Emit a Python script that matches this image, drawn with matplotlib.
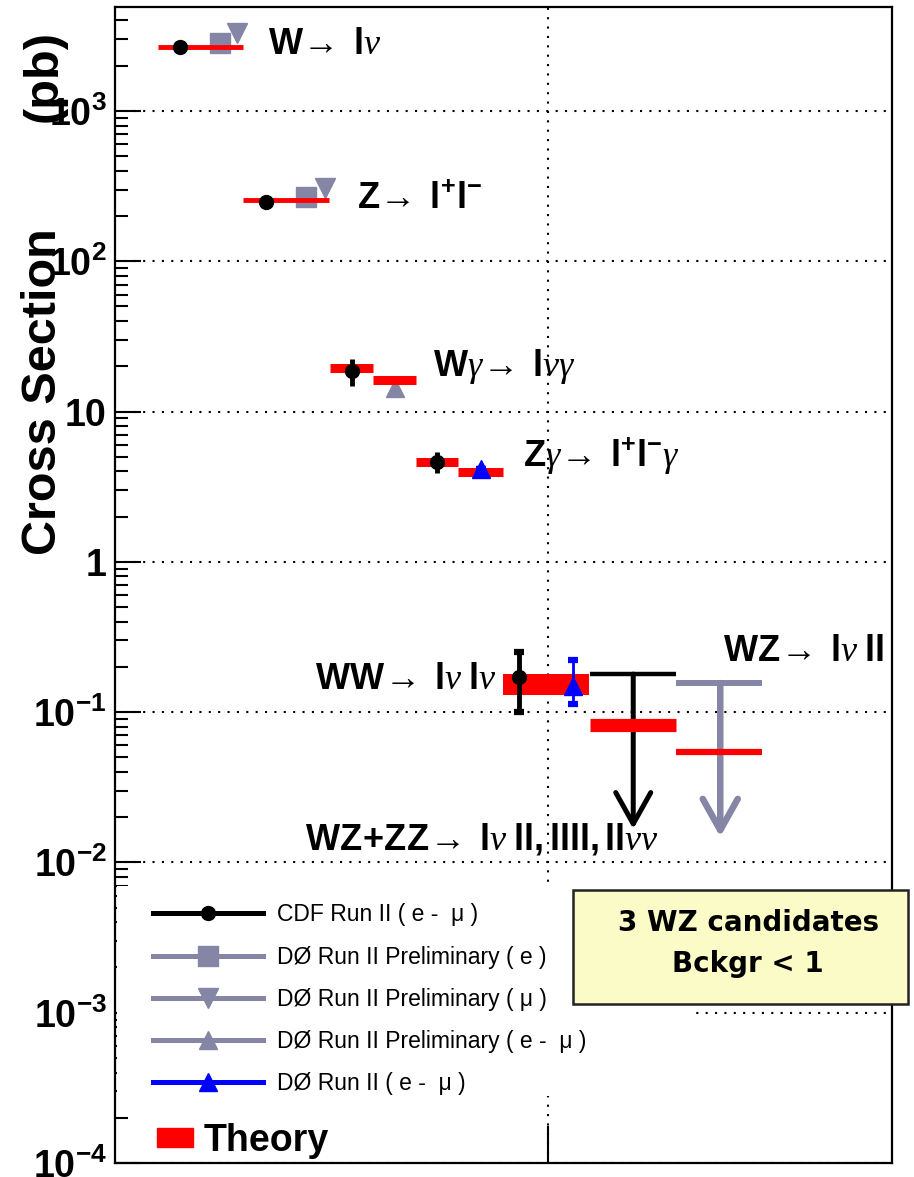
import matplotlib
matplotlib.use('Agg')
import matplotlib.pyplot as plt
from matplotlib.lines import Line2D
from matplotlib.patches import Patch, Rectangle
from matplotlib.ticker import LogLocator, NullFormatter, NullLocator

plt.rcParams['font.family'] = ['Liberation Sans', 'DejaVu Sans']
plt.rcParams['mathtext.fontset'] = 'custom'
plt.rcParams['mathtext.rm'] = 'Liberation Sans:bold'
plt.rcParams['mathtext.bf'] = 'Liberation Sans:bold'
plt.rcParams['mathtext.it'] = 'Liberation Serif:italic'

RED = '#ff0000'
GREY = '#8585a5'
BLUE = '#0000ff'

# CDF Run II (e-mu) measurements, pb
cdf_x = [0.84, 1.94, 3.05, 4.14, 5.20]
cdf_val = [2665, 248, 18.5, 4.6, 0.171]
cdf_lo = [2665, 248, 14.7, 3.91, 0.100]
cdf_hi = [2665, 248, 22.2, 5.39, 0.251]

# D0 Run II preliminary (e), (mu), (e-mu)
d0e_x = [1.35, 2.46]
d0e_val = [2830, 268]
d0mu_x = [1.57, 2.70]
d0mu_val = [3300, 307]
d0prel_emu_x = [3.60]
d0prel_emu_val = [14.4]

# D0 Run II (e-mu)
d0emu_x = [4.71, 5.89]
d0emu_val = [4.16, 0.149]
d0emu_lo = [4.16, 0.113]
d0emu_hi = [4.16, 0.222]

# theory predictions
theory_x0 = [0.55, 1.65, 2.77, 3.32, 3.87, 4.41, 6.11, 7.22]
theory_x1 = [1.65, 2.75, 3.32, 3.87, 4.41, 4.99, 7.22, 8.33]
theory_val = [2665, 256, 19.6, 16.3, 4.63, 3.97, 0.082, 0.054]
theory_lw = [3.5, 3.5, 6.5, 6.5, 6.5, 6.5, 9.5, 4.5]
ww_band_x = [4.99, 6.10]
ww_band_lo = 0.130
ww_band_hi = 0.179

# upper limits: WZ+ZZ (CDF) and WZ (D0)
limit_x0 = [6.11, 7.22]
limit_x1 = [7.22, 8.33]
limit_val = [0.179, 0.156]
limit_arrow_x = [6.67, 7.79]
limit_tip = [0.0167, 0.0148]
limit_color = ['black', GREY]
limit_lw = [3.2, 4.3]

# process labels
proc_text = [
    r'$\mathbf{W}\!\rightarrow\ \mathbf{l}\nu$',
    r'$\mathbf{Z}\!\rightarrow\ \mathbf{l^{+}l^{-}}$',
    r'$\mathbf{W}\gamma\!\rightarrow\ \mathbf{l}\nu\gamma$',
    r'$\mathbf{Z}\gamma\!\rightarrow\ \mathbf{l^{+}l^{-}}\gamma$',
    r'$\mathbf{WW}\!\rightarrow\ \mathbf{l}\nu\ \mathbf{l}\nu$',
    r'$\mathbf{WZ\!+\!ZZ}\!\rightarrow\ \mathbf{l}\nu\ \mathbf{ll,llll,ll}\nu\nu$',
    r'$\mathbf{WZ}\!\rightarrow\ \mathbf{l}\nu\ \mathbf{ll}$',
]
proc_x = [1.97, 3.11, 4.09, 5.25, 2.57, 2.45, 7.82]
proc_y = [2750, 256, 19.9, 5.07, 0.166, 0.0143, 0.255]

ytick_vals = [1e-4, 1e-3, 1e-2, 1e-1, 1, 10, 100, 1000]
ytick_labels = [r'$\mathbf{10^{-4}}$', r'$\mathbf{10^{-3}}$', r'$\mathbf{10^{-2}}$',
                r'$\mathbf{10^{-1}}$', '1', '10', r'$\mathbf{10^{2}}$', r'$\mathbf{10^{3}}$']

legend_labels = ['CDF Run II ( e -  \u03bc )',
                 'D\u00d8 Run II Preliminary ( e )',
                 'D\u00d8 Run II Preliminary ( \u03bc )',
                 'D\u00d8 Run II Preliminary ( e -  \u03bc )',
                 'D\u00d8 Run II ( e -  \u03bc )']

fig = plt.figure(figsize=(9.14, 11.77), dpi=100)
ax = fig.add_axes([0.1258, 0.0119, 0.8501, 0.9822])
ax.set_yscale('log')
ax.set_ylim(1e-4, 4920)
ax.set_xlim(0, 10)

# grey D0 markers sit below the theory lines
ax.plot(d0e_x, d0e_val, 's', color=GREY, ms=15, zorder=3)
ax.plot(d0mu_x, d0mu_val, 'v', color=GREY, ms=14, zorder=3)
ax.plot(d0prel_emu_x, d0prel_emu_val, '^', color=GREY, ms=13, zorder=3)

# theory
ax.hlines(theory_val, theory_x0, theory_x1, colors=RED, lw=theory_lw, zorder=4)
ax.fill_between(ww_band_x, ww_band_lo, ww_band_hi, color=RED, lw=0, zorder=4)

# limits with arrows
ax.hlines(limit_val, limit_x0, limit_x1, colors=limit_color, lw=limit_lw, zorder=4)
for x, v, t, c, w in zip(limit_arrow_x, limit_val, limit_tip, limit_color, limit_lw):
    ax.annotate('', xy=(x, t), xytext=(x, v),
                arrowprops=dict(arrowstyle='->,head_length=0.75,head_width=0.42',
                                color=c, lw=w + 0.4, mutation_scale=30,
                                shrinkA=0, shrinkB=0), zorder=3.5)

# CDF and D0 (e-mu) points
cdf_err = [[v - l for v, l in zip(cdf_val, cdf_lo)], [h - v for v, h in zip(cdf_val, cdf_hi)]]
ax.errorbar(cdf_x[:4], cdf_val[:4], yerr=[cdf_err[0][:4], cdf_err[1][:4]], fmt='o',
            color='black', ms=10, elinewidth=3.5, capsize=0, zorder=5)
ax.errorbar(cdf_x[4:], cdf_val[4:], yerr=[cdf_err[0][4:], cdf_err[1][4:]], fmt='o',
            color='black', ms=10, elinewidth=3.5, capsize=3.5, capthick=4.5, zorder=5)
d0_err = [[v - l for v, l in zip(d0emu_val, d0emu_lo)], [h - v for v, h in zip(d0emu_val, d0emu_hi)]]
ax.errorbar(d0emu_x, d0emu_val, yerr=d0_err, fmt='^', color=BLUE, ms=13,
            elinewidth=2, capsize=3.5, capthick=4.5, zorder=5)

for t, x, y in zip(proc_text, proc_x, proc_y):
    ax.text(x, y, t, fontsize=26, ha='left', va='center', zorder=6)

# axes styling
ax.set_yticks(ytick_vals)
ax.set_yticklabels(ytick_labels, fontsize=27, fontweight='bold')
ax.yaxis.set_minor_locator(LogLocator(base=10, subs=range(2, 10), numticks=20))
ax.yaxis.set_minor_formatter(NullFormatter())
ax.set_xticks([5.57])
ax.set_xticklabels([''])
ax.xaxis.set_minor_locator(NullLocator())
ax.tick_params(axis='y', which='major', direction='in', length=19, width=1.5, pad=6, right=False)
ax.tick_params(axis='y', which='minor', direction='in', length=9.5, width=1.5, right=False)
ax.tick_params(axis='x', which='major', direction='in', length=27, width=1.5, top=False)
ax.set_axisbelow(True)
ax.grid(True, which='major', color='black', linestyle=(0, (1, 3.5)), lw=1.5)
for s in ax.spines.values():
    s.set_linewidth(1.6)

# y axis title, drawn in two pieces
fig.text(44 / 914, 1 - 392 / 1177, 'Cross Section', rotation=90, fontsize=35,
         fontweight='bold', ha='center', va='center')
fig.text(44 / 914, 1 - 76 / 1177, '(pb)', rotation=90, fontsize=35,
         fontweight='bold', ha='center', va='center')

# white legend area over the grid
ax.add_patch(Rectangle((0.003, 0.058), 0.74, 0.182, transform=ax.transAxes,
                       facecolor='white', edgecolor='none', zorder=1))

handles = [
    Line2D([], [], color='black', lw=3.6, marker='o', ms=10),
    Line2D([], [], color=GREY, lw=3.6, marker='s', ms=15),
    Line2D([], [], color=GREY, lw=3.6, marker='v', ms=14),
    Line2D([], [], color=GREY, lw=3.6, marker='^', ms=13),
    Line2D([], [], color=BLUE, lw=3.6, marker='^', ms=13),
]
leg = ax.legend(handles, legend_labels, loc='upper left', bbox_to_anchor=(0.049, 0.2245),
                borderaxespad=0, borderpad=0, frameon=False, fontsize=16.5,
                handlelength=4.8, handletextpad=0.62, labelspacing=0.84, numpoints=1)
ax.add_artist(leg)
ax.legend([Patch(color=RED)], ['Theory'], loc='upper left', bbox_to_anchor=(0.054, 0.0346),
          borderaxespad=0, borderpad=0, frameon=False,
          prop={'size': 27, 'weight': 'bold'}, handlelength=0.95, handleheight=0.42,
          handletextpad=0.3)

# WZ candidates note
ax.add_patch(Rectangle((0.589, 0.1375), 0.4316, 0.0987, transform=ax.transAxes,
                       facecolor='#fbfbc8', edgecolor='#222222', lw=1.8,
                       clip_on=False, zorder=7))
ax.text(0.815, 0.2075, '3 WZ candidates', transform=ax.transAxes, fontsize=20,
        fontweight='bold', family='DejaVu Sans', ha='center', va='center', zorder=8)
ax.text(0.815, 0.172, 'Bckgr < 1', transform=ax.transAxes, fontsize=20,
        fontweight='bold', family='DejaVu Sans', ha='center', va='center', zorder=8)

fig.savefig('out.png', dpi=100)
